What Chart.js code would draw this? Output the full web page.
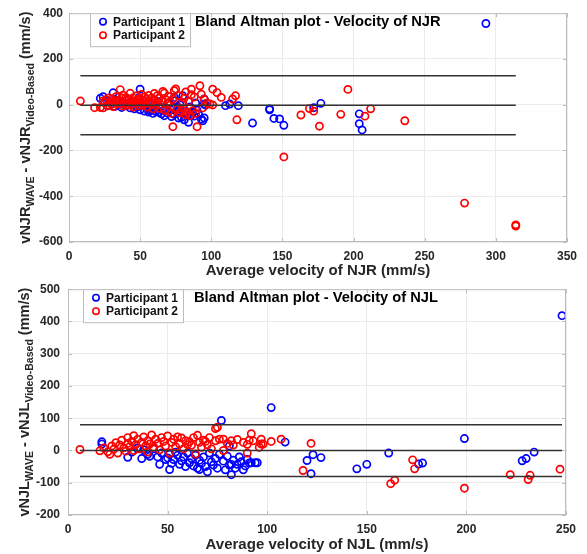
<!DOCTYPE html>
<html>
<head>
<meta charset="utf-8">
<script src="https://cdn.jsdelivr.net/npm/chart.js@4.4.1/dist/chart.umd.min.js"></script>
<style>
  body { margin: 0; background: #fff; }
  #wrap { position: relative; width: 587px; height: 554px; }
  canvas { position: absolute; left: 0; }
</style>
</head>
<body>
<div id="wrap">
  <canvas id="chart-njr" width="587" height="282" style="top:0px"></canvas>
  <canvas id="chart-njl" width="587" height="280" style="top:274px"></canvas>
</div>
<script>
// ---- NJR (top panel) : [average velocity, difference] ----
const njrParticipant1 = [
  [22,28],[24,35],[25,10],[27,-5],[28,15],[30,4],[31,52],[32,-8],[34,20],[35,2],[37,-12],[38,14],
  [40,-5],[41,24],[43,-14],[44,8],[46,-18],[47,12],[48,-10],[49,30],[50,68],[50,-22],[51,-4],[52,20],
  [53,-28],[54,4],[55,-14],[56,-32],[57,-26],[57,10],[58,-20],[59,-38],[60,0],[61,-30],[62,14],[63,-33],
  [64,-10],[65,-40],[66,-26],[67,-48],[68,-16],[69,-36],[70,4],[71,-19],[72,-52],[73,-12],[74,-42],[74,32],
  [75,18],[76,-30],[77,-12],[77,-58],[78,0],[79,-55],[80,-40],[80,39],[81,-66],[82,-30],[84,-77],[85,-10],
  [86,-45],[87,-33],[88,-50],[89,8],[90,-24],[91,-40],[93,-63],[94,-70],[95,-58],[95,25],[95,3],[96,-2],
  [110,-4],[113,3],[119,-4],[129,-80],[141,-18],[141,-22],[144,-60],[148,-62],[151,-90],[172,-13],[177,6],
  [204,-40],[204,-83],[206,-110],[293,355]
];
const njrParticipant2 = [
  [8,16],[18,-13],[22,-12],[24,-14],[24,17],[25,8],[26,22],[27,-3],[28,30],[29,12],[30,2],[30,25],
  [31,-8],[32,15],[33,35],[34,5],[35,20],[36,66],[36,10],[37,28],[38,-6],[38,42],[39,3],[40,16],
  [40,32],[41,-2],[42,24],[42,8],[43,50],[44,0],[44,18],[45,30],[45,-10],[46,12],[47,38],[47,4],
  [48,22],[49,-4],[50,28],[50,10],[51,45],[52,-2],[52,18],[53,34],[54,6],[55,-10],[55,24],[56,40],
  [57,14],[58,2],[58,30],[59,-18],[60,20],[60,49],[61,-6],[62,39],[62,10],[63,28],[64,-16],[65,15],
  [66,58],[67,-24],[67,51],[68,22],[69,4],[70,-28],[70,36],[71,12],[72,-38],[73,24],[73,-96],[74,61],
  [75,69],[76,-20],[77,40],[78,-34],[79,-26],[80,10],[81,-19],[81,30],[82,-44],[82,56],[83,-33],[84,14],
  [85,-48],[86,68],[86,44],[87,-26],[88,34],[89,-38],[90,-96],[92,83],[93,46],[94,-14],[95,24],[97,8],
  [99,3],[101,-1],[101,68],[104,53],[107,32],[115,25],[117,39],[118,-66],[151,-228],[163,-45],[169,-17],
  [172,-28],[176,-94],[191,-42],[196,67],[208,-50],[212,-18],[236,-70],[278,-430],[314,-525],[314,-530]
];
const njrLimitX = [8, 314];
const njrLimitY = [127, -2, -131]; // upper LoA, mean, lower LoA
const njrXTicks = [0, 50, 100, 150, 200, 250, 300, 350];
const njrYTicks = [-600, -400, -200, 0, 200, 400];

// ---- NJL (bottom panel) ----
const njlParticipant1 = [
  [17,27],[17,20],[30,-21],[32,-5],[35,8],[37,-25],[38,2],[40,-12],[41,-18],[43,5],[45,-20],[46,-43],
  [47,-8],[49,-28],[50,-23],[51,-12],[51,-59],[52,-40],[53,-28],[54,-5],[55,-15],[56,-43],[57,-32],[58,-20],
  [59,-50],[60,-8],[61,-38],[62,-25],[63,-48],[64,-15],[65,-55],[66,-59],[66,-30],[67,-40],[68,-20],[69,-50],
  [70,-66],[71,-8],[72,-35],[73,-45],[74,-25],[75,-55],[76,-12],[77,93],[78,-33],[79,-60],[80,-18],[81,14],
  [81,-45],[82,-43],[82,-75],[83,-30],[84,-55],[85,-43],[86,-20],[87,-35],[88,-60],[89,-48],[90,-28],[91,-39],
  [92,-38],[94,-38],[95,-38],[102,133],[109,26],[120,-31],[122,-72],[123,-13],[127,-22],[145,-57],[150,-43],
  [161,-8],[176,-42],[178,-39],[199,37],[228,-32],[230,-25],[234,-5],[248,418]
];
const njlParticipant2 = [
  [6,3],[16,-1],[18,8],[20,-4],[21,-12],[22,14],[23,4],[24,24],[25,-8],[26,17],[27,32],[28,8],
  [29,-2],[30,22],[30,40],[31,12],[32,28],[33,0],[33,46],[34,18],[35,35],[36,5],[37,25],[38,42],
  [39,14],[40,-5],[40,30],[41,20],[42,48],[43,10],[44,35],[45,22],[46,2],[47,40],[48,28],[49,14],
  [50,45],[51,-8],[52,25],[53,35],[54,12],[55,42],[56,20],[57,39],[58,5],[59,30],[60,18],[61,27],
  [62,16],[63,40],[64,-11],[65,47],[66,25],[67,10],[68,32],[69,28],[70,18],[71,40],[72,5],[74,68],
  [75,72],[74,30],[76,35],[78,35],[78,0],[80,22],[82,30],[83,17],[85,34],[88,25],[90,19],[90,-8],
  [91,32],[92,52],[93,30],[96,10],[97,35],[97,20],[98,20],[102,28],[107,35],[118,-62],[122,22],
  [162,-103],[164,-92],[173,-29],[174,-57],[199,-117],[222,-75],[231,-90],[232,-77],[247,-58]
];
const njlLimitX = [6, 248];
const njlLimitY = [80, 0, -81];
const njlXTicks = [0, 50, 100, 150, 200, 250];
const njlYTicks = [-200, -100, 0, 100, 200, 300, 400, 500];

const legendLabels = ["Participant 1", "Participant 2"];
const BLUE = "#0000ff";
const RED = "#ff0000";
const FONT = "'Liberation Sans', Arial, Helvetica, sans-serif";

Chart.defaults.font.family = FONT;

// draws the MATLAB-like box, inward ticks, legend, title and axis titles
function makeFrame(cfg) {
  return {
    id: "frame",
    afterDraw(chart) {
      const { ctx, chartArea: a, scales } = chart;
      ctx.save();

      // box + inward tick marks
      ctx.strokeStyle = "#bdbdbd";
      ctx.lineWidth = 1;
      ctx.strokeRect(a.left + 0.5, a.top + 0.5, a.right - a.left - 1, a.bottom - a.top - 1);
      ctx.beginPath();
      scales.x.ticks.forEach((t) => {
        const px = Math.round(scales.x.getPixelForValue(t.value)) + 0.5;
        ctx.moveTo(px, a.bottom); ctx.lineTo(px, a.bottom - 4);
        ctx.moveTo(px, a.top); ctx.lineTo(px, a.top + 4);
      });
      scales.y.ticks.forEach((t) => {
        const py = Math.round(scales.y.getPixelForValue(t.value)) + 0.5;
        ctx.moveTo(a.left, py); ctx.lineTo(a.left + 4, py);
        ctx.moveTo(a.right, py); ctx.lineTo(a.right - 4, py);
      });
      ctx.stroke();

      // legend
      const lx = a.left + cfg.legendDx, ly = a.top;
      ctx.fillStyle = "#fff";
      ctx.fillRect(lx, ly, 100, 34);
      ctx.strokeStyle = "#bdbdbd";
      ctx.strokeRect(lx + 0.5, ly + 0.5, 100, 33);
      ctx.font = "bold 12px " + FONT;
      ctx.textBaseline = "middle";
      ctx.textAlign = "left";
      [BLUE, RED].forEach((c, i) => {
        const yy = ly + 8.5 + i * 13.5;
        ctx.beginPath();
        ctx.strokeStyle = c;
        ctx.lineWidth = 1.6;
        ctx.arc(lx + 13, yy, 3.2, 0, Math.PI * 2);
        ctx.stroke();
        ctx.fillStyle = "#111";
        ctx.fillText(legendLabels[i], lx + 23, yy + 0.5);
      });

      // plot title
      ctx.font = "bold 14.7px " + FONT;
      ctx.fillStyle = "#000";
      ctx.fillText(cfg.title, a.left + 126, a.top + 8.5);

      // x axis title
      ctx.font = "bold 15px " + FONT;
      ctx.fillStyle = "#262626";
      ctx.textAlign = "center";
      ctx.textBaseline = "alphabetic";
      ctx.fillText(cfg.xTitle, (a.left + a.right) / 2, cfg.xTitleY);

      // y axis title with subscripts
      const parts = cfg.yParts;
      const fontFor = (p) => p.sub ? "bold 10.5px " + FONT : "bold 14.5px " + FONT;
      let total = 0;
      parts.forEach((p) => { ctx.font = fontFor(p); total += ctx.measureText(p.t).width; });
      ctx.translate(cfg.yTitleX, (a.top + a.bottom) / 2);
      ctx.rotate(-Math.PI / 2);
      ctx.textAlign = "left";
      let x = -total / 2;
      parts.forEach((p) => {
        ctx.font = fontFor(p);
        ctx.fillText(p.t, x, p.sub ? 4 : 0);
        x += ctx.measureText(p.t).width;
      });
      ctx.restore();
    },
  };
}

function limitLine(xs, y) {
  return {
    type: "scatter",
    data: xs.map((x) => ({ x: x, y: y })),
    showLine: true,
    borderColor: "#333333",
    borderWidth: 1.5,
    pointRadius: 0,
  };
}

function markers(pairs, color, label) {
  return {
    label: label,
    data: pairs.map((p) => ({ x: p[0], y: p[1] })),
    borderColor: color,
    backgroundColor: "rgba(0,0,0,0)",
    borderWidth: 1.7,
    pointRadius: 3.6,
    pointStyle: "circle",
  };
}

function createPanel(id, d) {
  const ctx = document.getElementById(id).getContext("2d");
  new Chart(ctx, {
    type: "scatter",
    data: {
      datasets: [
        ...d.limitY.map((y) => limitLine(d.limitX, y)),
        markers(d.p2, RED, legendLabels[1]),
        markers(d.p1, BLUE, legendLabels[0]),
      ],
    },
    options: {
      responsive: false,
      animation: false,
      devicePixelRatio: 1,
      layout: { padding: { left: 0, right: d.padRight, top: d.padTop, bottom: 0 } },
      plugins: { legend: { display: false }, tooltip: { enabled: false } },
      scales: {
        x: {
          type: "linear",
          min: d.xTicks[0],
          max: d.xTicks[d.xTicks.length - 1],
          afterBuildTicks: (s) => { s.ticks = d.xTicks.map((v) => ({ value: v })); },
          afterFit: (s) => { s.height = d.xHeight; },
          grid: { color: "#ebebeb", drawTicks: false },
          border: { display: false },
          ticks: { color: "#262626", padding: 7, font: { size: 12, weight: "bold" }, maxRotation: 0 },
        },
        y: {
          type: "linear",
          min: d.yTicks[0],
          max: d.yTicks[d.yTicks.length - 1],
          afterBuildTicks: (s) => { s.ticks = d.yTicks.map((v) => ({ value: v })); },
          afterFit: (s) => { s.width = d.yWidth; },
          grid: { color: "#ebebeb", drawTicks: false },
          border: { display: false },
          ticks: { color: "#262626", padding: d.yPad, font: { size: 12, weight: "bold" } },
        },
      },
    },
    plugins: [makeFrame(d.frame)],
  });
}

createPanel("chart-njr", {
  p1: njrParticipant1, p2: njrParticipant2,
  limitX: njrLimitX, limitY: njrLimitY,
  xTicks: njrXTicks, yTicks: njrYTicks,
  padTop: 12, padRight: 20, xHeight: 40, yWidth: 69, yPad: 6,
  frame: {
    title: "Bland Altman plot - Velocity of NJR",
    xTitle: "Average velocity of NJR (mm/s)",
    xTitleY: 275,
    yTitleX: 30,
    legendDx: 21,
    yParts: [
      { t: "vNJR" }, { t: "WAVE", sub: true }, { t: " - vNJR" },
      { t: "Video-Based", sub: true }, { t: " (mm/s)" },
    ],
  },
});

createPanel("chart-njl", {
  p1: njlParticipant1, p2: njlParticipant2,
  limitX: njlLimitX, limitY: njlLimitY,
  xTicks: njlXTicks, yTicks: njlYTicks,
  padTop: 10, padRight: 21, xHeight: 39, yWidth: 68, yPad: 8,
  frame: {
    title: "Bland Altman plot - Velocity of NJL",
    xTitle: "Average velocity of NJL (mm/s)",
    xTitleY: 275,
    yTitleX: 29,
    legendDx: 15,
    yParts: [
      { t: "vNJL" }, { t: "WAVE", sub: true }, { t: " - vNJL" },
      { t: "Video-Based", sub: true }, { t: " (mm/s)" },
    ],
  },
});
</script>
</body>
</html>
